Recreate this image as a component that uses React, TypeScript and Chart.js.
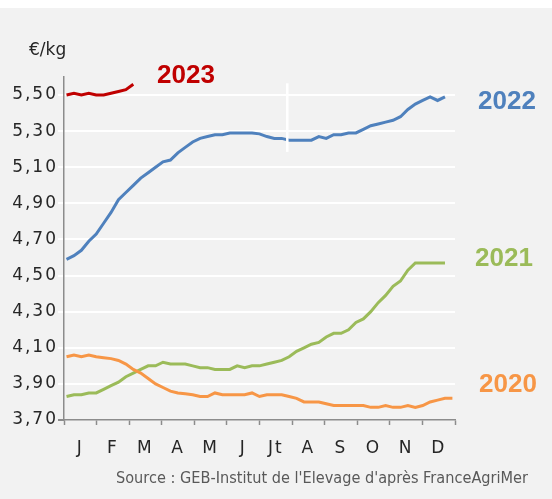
import React, { useEffect, useRef } from 'react';
import { Chart, registerables } from 'chart.js';

Chart.register(...registerables);

const months = ['J', 'F', 'M', 'A', 'M', 'J', 'Jt', 'A', 'S', 'O', 'N', 'D'];
const yTickValues = [3.7, 3.9, 4.1, 4.3, 4.5, 4.7, 4.9, 5.1, 5.3, 5.5];
const yearLabels = ['2020', '2021', '2022', '2023'];
const yearColors = ['#f79646', '#9bbb59', '#4f81bd', '#c00000'];
const unitLabel = '€/kg';
const sourceText = "Source : GEB-Institut de l'Elevage d'après FranceAgriMer";

// weekly prices (€/kg), one value per week starting week 1
const prices2020 = [
  4.05, 4.06, 4.05, 4.06, 4.05, 4.045, 4.04, 4.03, 4.01, 3.98,
  3.96, 3.93, 3.9, 3.88, 3.86, 3.85, 3.845, 3.84, 3.83, 3.83,
  3.85, 3.84, 3.84, 3.84, 3.84, 3.85, 3.83, 3.84, 3.84, 3.84,
  3.83, 3.82, 3.8, 3.8, 3.8, 3.79, 3.78, 3.78, 3.78, 3.78,
  3.78, 3.77, 3.77, 3.78, 3.77, 3.77, 3.78, 3.77, 3.78, 3.8,
  3.81, 3.82, 3.82,
];
const prices2021 = [
  3.83, 3.84, 3.84, 3.85, 3.85, 3.87, 3.89, 3.91, 3.94, 3.96,
  3.98, 4.0, 4.0, 4.02, 4.01, 4.01, 4.01, 4.0, 3.99, 3.99,
  3.98, 3.98, 3.98, 4.0, 3.99, 4.0, 4.0, 4.01, 4.02, 4.03,
  4.05, 4.08, 4.1, 4.12, 4.13, 4.16, 4.18, 4.18, 4.2, 4.24,
  4.26, 4.3, 4.35, 4.39, 4.44, 4.47, 4.53, 4.57, 4.57, 4.57,
  4.57, 4.57,
];
const prices2022 = [
  4.59, 4.61, 4.64, 4.69, 4.73, 4.79, 4.85, 4.92, 4.96, 5.0,
  5.04, 5.07, 5.1, 5.13, 5.14, 5.18, 5.21, 5.24, 5.26, 5.27,
  5.28, 5.28, 5.29, 5.29, 5.29, 5.29, 5.285, 5.27, 5.26, 5.26,
  5.25, 5.25, 5.25, 5.25, 5.27, 5.26, 5.28, 5.28, 5.29, 5.29,
  5.31, 5.33, 5.34, 5.35, 5.36, 5.38, 5.42, 5.45, 5.47, 5.49,
  5.47, 5.49,
];
const prices2023 = [5.5, 5.51, 5.5, 5.51, 5.5, 5.5, 5.51, 5.52, 5.53, 5.56];

const allSeries = [prices2020, prices2021, prices2022, prices2023];

const X_MIN = 0.66;
const X_MAX = 53.35;

export default function App() {
  const canvasRef = useRef<HTMLCanvasElement | null>(null);

  useEffect(() => {
    const canvas = canvasRef.current;
    if (!canvas) return;

    const datasets = allSeries.map((arr, i) => ({
      label: yearLabels[i],
      data: arr.map((v, k) => ({ x: k + 1, y: v })),
      borderColor: yearColors[i],
      backgroundColor: yearColors[i],
      borderWidth: 3,
      pointRadius: 0,
      tension: 0,
      fill: false,
    }));

    const step = (X_MAX - X_MIN) / 12;

    const decor = {
      id: 'decor',
      beforeDraw(chart: any) {
        const { ctx, width, height } = chart;
        ctx.save();
        ctx.fillStyle = '#ffffff';
        ctx.fillRect(0, 0, width, height);
        ctx.fillStyle = '#f2f2f2';
        ctx.fillRect(0, 8, width, height - 8);
        ctx.restore();
        ctx.letterSpacing = '2px';
      },
      beforeDatasetsDraw(chart: any) {
        chart.ctx.letterSpacing = '0px';
      },
      afterDatasetsDraw(chart: any) {
        const { ctx, scales } = chart;
        const xs = scales.x;
        const ys = scales.y;
        ctx.save();
        ctx.strokeStyle = '#ffffff';
        ctx.lineWidth = 2.5;
        ctx.beginPath();
        const px = xs.getPixelForValue(30.75);
        ctx.moveTo(px, ys.getPixelForValue(5.565));
        ctx.lineTo(px, ys.getPixelForValue(5.185));
        ctx.stroke();
        ctx.restore();
      },
      afterDraw(chart: any) {
        const { ctx } = chart;
        ctx.save();
        ctx.letterSpacing = '0px';
        ctx.textBaseline = 'middle';
        ctx.textAlign = 'left';
        ctx.fillStyle = '#262626';
        ctx.font = '17px "DejaVu Sans"';
        ctx.fillText(unitLabel, 29, 51);

        ctx.font = 'bold 26px "Liberation Sans"';
        const pos = [
          [479, 385],
          [475, 259],
          [478, 102],
          [157, 76],
        ];
        yearLabels.forEach((t, i) => {
          ctx.fillStyle = yearColors[i];
          ctx.fillText(t, pos[i][0], pos[i][1]);
        });

        ctx.fillStyle = '#595959';
        ctx.font = '15px "DejaVu Sans"';
        ctx.fillText(sourceText, 116, 479, 412);
        ctx.restore();
      },
    };

    const chart = new Chart(canvas, {
      type: 'line',
      data: { datasets },
      options: {
        animation: false,
        responsive: false,
        maintainAspectRatio: false,
        layout: { padding: { left: 0, right: 97, top: 77, bottom: 0 } },
        plugins: {
          legend: { display: false },
          tooltip: { enabled: false },
          title: { display: false },
        },
        scales: {
          x: {
            type: 'linear',
            min: X_MIN,
            max: X_MAX,
            afterBuildTicks(scale: any) {
              const t: any[] = [];
              for (let k = 0; k <= 12; k++) {
                t.push({ value: X_MIN + k * step });
                if (k < 12) t.push({ value: X_MIN + (k + 0.5) * step });
              }
              scale.ticks = t;
            },
            afterFit(scale: any) {
              scale.height = 79;
              scale.paddingLeft = 0;
              scale.paddingRight = 0;
            },
            ticks: {
              autoSkip: false,
              maxRotation: 0,
              minRotation: 0,
              padding: 13,
              color: '#262626',
              font: { family: '"DejaVu Sans"', size: 17 },
              callback: (_v: any, index: number) =>
                index % 2 === 1 ? months[(index - 1) / 2] : '',
            },
            grid: {
              display: true,
              drawOnChartArea: false,
              drawTicks: true,
              tickLength: 5,
              tickWidth: 1.5,
              tickColor: (c: any) => (c.index % 2 === 0 ? '#8c8c8c' : 'rgba(0,0,0,0)'),
            },
            border: { display: true, color: '#8c8c8c', width: 1.5 },
          },
          y: {
            type: 'linear',
            min: 3.7,
            max: 5.6,
            afterBuildTicks(scale: any) {
              scale.ticks = yTickValues.map((v) => ({ value: v }));
            },
            afterFit(scale: any) {
              scale.width = 64;
              scale.paddingTop = 0;
              scale.paddingBottom = 0;
            },
            ticks: {
              padding: 0,
              color: '#262626',
              font: { family: '"DejaVu Sans"', size: 17 },
              callback: (v: any) => Number(v).toFixed(2).replace('.', ','),
            },
            grid: {
              color: (c: any) =>
                c.tick && Math.abs(c.tick.value - 3.7) < 1e-6 ? 'rgba(0,0,0,0)' : '#ffffff',
              lineWidth: 2,
              tickLength: 6,
              tickColor: (c: any) =>
                c.tick && Math.abs(c.tick.value - 3.7) < 1e-6 ? '#8c8c8c' : '#ffffff',
            },
            border: { display: true, color: '#8c8c8c', width: 1.5 },
          },
        },
      },
      plugins: [decor],
    });

    return () => {
      chart.destroy();
    };
  }, []);

  return (
    <div style={{ position: 'absolute', top: 0, left: 0, width: 552, height: 499 }}>
      <canvas ref={canvasRef} width={552} height={499} style={{ display: 'block' }} />
    </div>
  );
}
